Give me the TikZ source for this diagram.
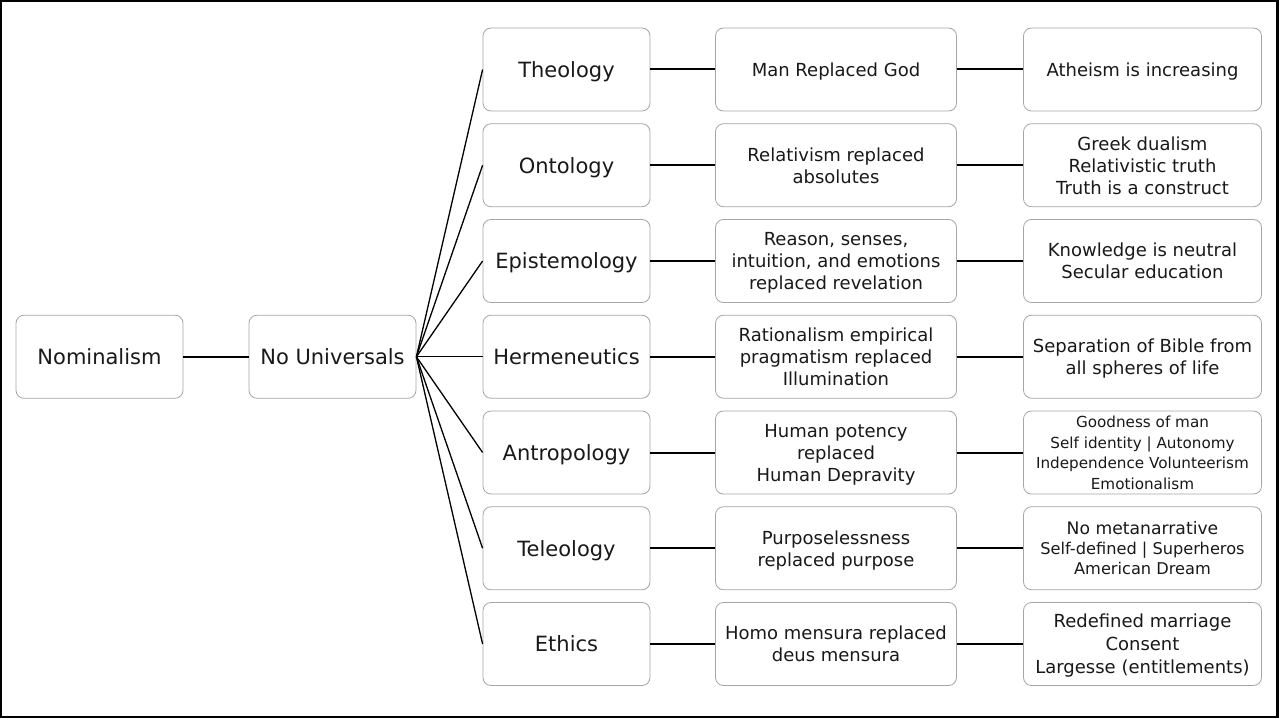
\documentclass[tikz,border=0pt]{standalone}
\usepackage{fontspec}
\setmainfont{DejaVu Sans}
\begin{document}
\begin{tikzpicture}[x=1bp,y=-1bp,
  box/.style={draw=black!35,line width=0.8bp,rounded corners=8bp,fill=white,
    align=center,inner sep=0pt,anchor=center,minimum height=83bp,text depth=0pt,text=black!90},
  bigtxt/.style={font=\fontsize{21bp}{25bp}\selectfont},
  midtxt/.style={font=\fontsize{18bp}{22bp}\selectfont},
  narrow/.style={box,bigtxt,minimum width=167bp},
  wide/.style={box,midtxt,minimum width=241bp},
  wider/.style={box,midtxt,minimum width=238bp},
  link/.style={draw=black,line width=2bp},
  fan/.style={draw=black,line width=1.3bp}]
\useasboundingbox (0,0) rectangle (1279,719);
\draw[line width=2.4bp] (1.2,1.2) rectangle (1277.3,717.2);

\node[narrow] (nom) at (99.5,356.75) {Nominalism};
\node[narrow] (nou) at (332.5,356.75) {No Universals};

\node[narrow] (a1) at (566.5,69.5) {Theology};
\node[narrow] (a2) at (566.5,165.25) {Ontology};
\node[narrow] (a3) at (566.5,261) {Epistemology};
\node[narrow] (a4) at (566.5,356.75) {Hermeneutics};
\node[narrow] (a5) at (566.5,452.5) {Antropology};
\node[narrow] (a6) at (566.5,548.25) {Teleology};
\node[narrow] (a7) at (566.5,644) {Ethics};

\node[wide] (b1) at (836,69.5) {Man Replaced God};
\node[wide] (b2) at (836,165.25) {Relativism replaced\\absolutes};
\node[wide] (b3) at (836,261) {Reason, senses,\\intuition, and emotions\\replaced revelation};
\node[wide] (b4) at (836,356.75) {Rationalism empirical\\pragmatism replaced\\Illumination};
\node[wide] (b5) at (836,452.5) {Human potency\\replaced\\Human Depravity};
\node[wide] (b6) at (836,548.25) {Purposelessness\\replaced purpose};
\node[wide] (b7) at (836,644) {Homo mensura replaced\\deus mensura};

\node[wider] (c1) at (1142.5,69.5) {Atheism is increasing};
\node[wider] (c2) at (1142.5,165.25) {Greek dualism\\Relativistic truth\\Truth is a construct};
\node[wider] (c3) at (1142.5,261) {Knowledge is neutral\\Secular education};
\node[wider] (c4) at (1142.5,356.75) {Separation of Bible from\\all spheres of life};
\node[wider,font=\fontsize{15.2bp}{20.5bp}\selectfont] (c5) at (1142.5,452.5) {Goodness of man\\Self identity | Autonomy\\Independence Volunteerism\\Emotionalism};
\node[wider,font=\fontsize{16.2bp}{20bp}\selectfont] (c6) at (1142.5,548.25) {{\fontsize{17.2bp}{20bp}\selectfont No metanarrative}\\Self-defined | Superheros\\American Dream};
\node[wider,font=\fontsize{18bp}{23bp}\selectfont] (c7) at (1142.5,644) {Redefined marriage\\Consent\\Largesse (entitlements)};

\draw[link] (nom.east) -- (nou.west);
\foreach \i in {1,...,7}{
  \draw[fan] (nou.east) -- (a\i.west);
  \draw[link] (a\i.east) -- (b\i.west);
  \draw[link] (b\i.east) -- (c\i.west);
}
\end{tikzpicture}
\end{document}
